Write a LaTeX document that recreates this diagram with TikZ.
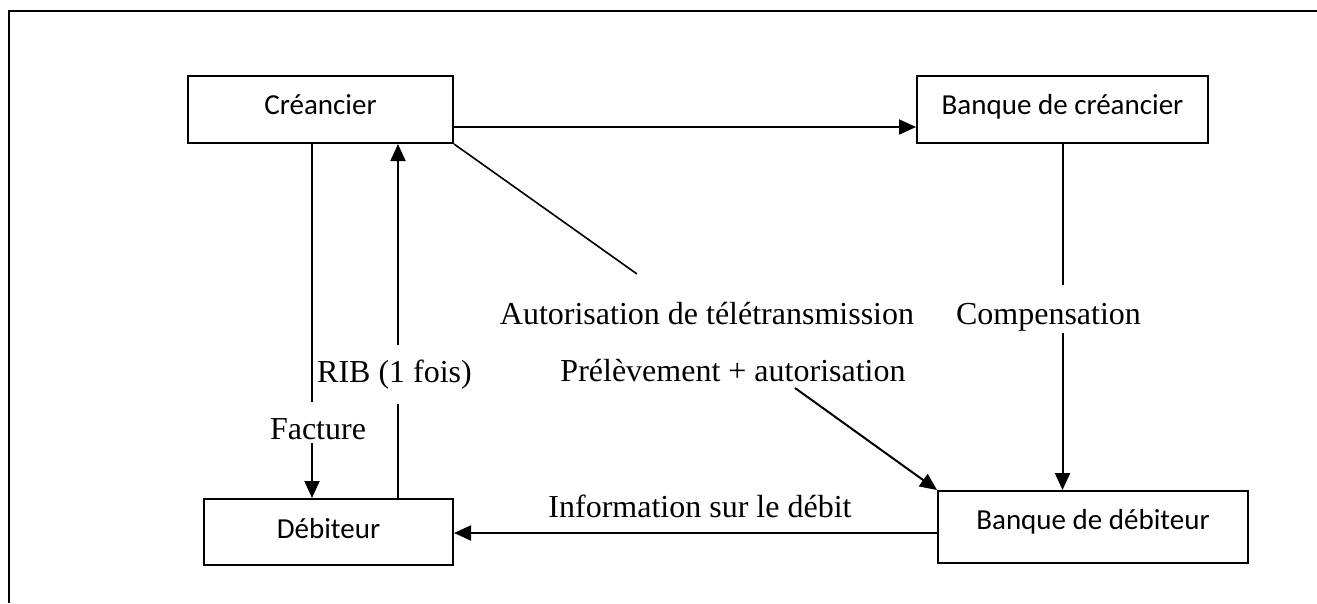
\documentclass[tikz,border=0pt]{standalone}
\usepackage{fontspec}
\setmainfont{Liberation Serif}
\newfontfamily\boxfont{Carlito}
\usetikzlibrary{arrows.meta}
\tikzset{
  box/.style={draw, line width=2pt, inner sep=0pt, font=\boxfont\fontsize{29}{34}\selectfont},
  lbl/.style={font=\fontsize{32}{38}\selectfont, inner sep=0pt, anchor=base},
  ln/.style={line width=2pt},
  arr/.style={line width=2pt, -{Triangle[length=17pt,width=15pt]}}
}
\begin{document}
\begin{tikzpicture}[x=1pt,y=-1pt]
\useasboundingbox (0,0) rectangle (1317,603);
% frame
\coordinate (fb) at (9,603);
\coordinate (fl) at (9,11);
\coordinate (fr) at (1317,11);
\draw[line width=2pt] (fb) -- (fl) -- (fr);
% boxes
\node[box, minimum width=265pt, minimum height=67pt, text height=15pt, text depth=6pt] (cre) at (320.5,109.5) {Créancier};
\node[box, minimum width=291pt, minimum height=67pt, text height=15pt, text depth=6pt] (bcre) at (1062.5,109.5) {Banque de créancier};
\node[box, minimum width=249pt, minimum height=66pt, text height=18pt, text depth=6pt] (deb) at (328.5,532) {Débiteur};
\node[box, minimum width=310pt, minimum height=72pt, text height=14pt, text depth=10pt] (bdeb) at (1093,527) {Banque de débiteur};
% labels
\node[lbl] (fac) at (318,439) {Facture};
\node[lbl] (rib) at (394.5,382) {RIB (1 fois)};
\node[lbl] (aut) at (707,324) {Autorisation de télétransmission};
\node[lbl] (pre) at (733,381) {Prélèvement + autorisation};
\node[lbl] (comp) at (1048.5,324) {Compensation};
\node[lbl] (info) at (700,517) {Information sur le débit};
% créancier -> banque créancier
\draw[arr] ([yshift=-17.5pt]cre.east) -- ([yshift=-17.5pt]cre.east -| bcre.west);
% diagonal
\coordinate (d1) at (637,274);
\draw[line width=1.6pt] (cre.south east) -- (d1);
% facture
\coordinate (f1) at (312,402);
\coordinate (f2) at (312,443);
\draw[ln] (cre.south -| f1) -- (f1);
\draw[arr] (f2) -- (deb.north -| f2);
% RIB
\coordinate (r1) at (398,404);
\coordinate (r2) at (398,345);
\draw[ln] (deb.north -| r1) -- (r1);
\draw[arr] (r2) -- (cre.south -| r2);
% compensation
\coordinate (c1) at (1062.5,285);
\coordinate (c2) at (1062.5,333);
\draw[ln] (bcre.south) -- (c1);
\draw[arr] (c2) -- (bdeb.north -| c2);
% prélèvement
\coordinate (p1) at (795,388);
\draw[arr] (p1) -- (bdeb.north west);
% information
\draw[arr] ([yshift=-6pt]bdeb.west) -- ([yshift=-6pt]bdeb.west -| deb.east);
\end{tikzpicture}
\end{document}
